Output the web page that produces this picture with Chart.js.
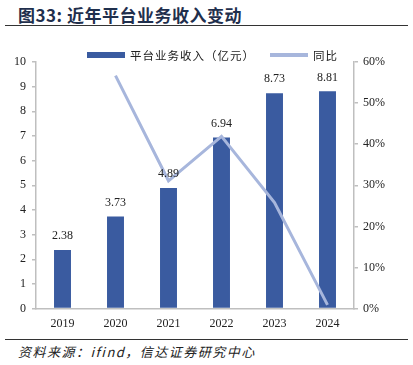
<!DOCTYPE html>
<html>
<head>
<meta charset="utf-8">
<script src="https://cdn.jsdelivr.net/npm/chart.js@4"></script>
<style>
  body { margin: 0; width: 413px; height: 365px; background: #fff; position: relative; overflow: hidden; }
  .title { position: absolute; left: 18px; top: 2px; font: bold 17px "Noto Sans CJK SC", "Liberation Serif", serif; color: #1f2f4d; letter-spacing: 0.5px; }
  .rule { position: absolute; left: 5px; width: 403px; height: 0; border-top: 1.5px solid #333; }
  .source { position: absolute; left: 18px; top: 342px; font: italic 13px "Noto Sans CJK SC", "Liberation Serif", serif; color: #222; letter-spacing: 1.5px; }
  #wrap { position: absolute; left: 0; top: 30px; width: 413px; height: 309px; }
  .legend { position: absolute; top: 47px; left: 87px; font: 11.5px "Noto Sans CJK SC", serif; color: #222; display: flex; align-items: center; letter-spacing: 1px; }
  .sw { display: inline-block; width: 38px; margin-right: 5px; }
</style>
</head>
<body>
<div class="title">图33: 近年平台业务收入变动</div>
<div class="rule" style="top:25px"></div>
<div id="wrap"><canvas id="chart"></canvas></div>
<div class="legend">
  <span class="sw" style="height:6px;background:#3a5ba0"></span><span>平台业务收入（亿元）</span>
  <span class="sw" style="height:4px;background:#a7b6dc;margin-left:15px"></span><span>同比</span>
</div>
<div class="rule" style="top:339px"></div>
<div class="source">资料来源：ifind，信达证券研究中心</div>
<script>
// values
const years = ['2019', '2020', '2021', '2022', '2023', '2024'];
const revenue = [2.38, 3.73, 4.89, 6.94, 8.73, 8.81];
const yoy = [null, 56.7, 31.1, 41.9, 25.8, 0.9];

const barColor = '#3a5ba0';
const lineColor = '#a7b6dc';
const axisColor = '#bfbfbf';
const numFont = { family: '"Liberation Serif", "Times New Roman", serif', size: 12 };

// Value labels above the bars
const barLabels = {
    id: 'barLabels',
    afterDatasetsDraw(chart) {
        const ctx = chart.ctx;
        const meta = chart.getDatasetMeta(1);
        ctx.save();
        ctx.font = '12px "Liberation Serif", serif';
        ctx.fillStyle = '#222';
        ctx.textAlign = 'center';
        ctx.textBaseline = 'bottom';
        meta.data.forEach((bar, i) => {
            ctx.fillText(revenue[i].toFixed(2), bar.x, bar.y - 8);
        });
        ctx.restore();
    }
};

const ctx = document.getElementById('chart').getContext('2d');
new Chart(ctx, {
    data: {
        labels: years,
        datasets: [
            {
                type: 'line',
                label: '同比',
                data: yoy,
                yAxisID: 'y1',
                borderColor: lineColor,
                borderWidth: 3,
                pointRadius: 0,
                tension: 0,
                order: 0
            },
            {
                type: 'bar',
                label: '平台业务收入（亿元）',
                data: revenue,
                yAxisID: 'y',
                backgroundColor: barColor,
                categoryPercentage: 1,
                barPercentage: 0.32,
                order: 1
            }
        ]
    },
    options: {
        responsive: true,
        maintainAspectRatio: false,
        animation: false,
        layout: { padding: { top: 32, bottom: 0, left: 0, right: 0 } },
        plugins: {
            legend: { display: false },
            tooltip: { enabled: false }
        },
        scales: {
            x: {
                grid: { display: false, drawTicks: false },
                border: { color: axisColor, width: 1.5 },
                ticks: { color: '#222', font: numFont, padding: 8 }
            },
            y: {
                position: 'left',
                min: 0,
                max: 10,
                afterFit: s => { s.width = 36; },
                grid: { drawOnChartArea: false, drawTicks: true, tickLength: 4, color: axisColor, lineWidth: 1.5 },
                border: { color: axisColor, width: 1.5 },
                ticks: { stepSize: 1, color: '#222', font: numFont, padding: 6 }
            },
            y1: {
                position: 'right',
                min: 0,
                max: 60,
                afterFit: s => { s.width = 59; },
                grid: { drawOnChartArea: false, drawTicks: true, tickLength: 4, color: axisColor, lineWidth: 1.5 },
                border: { color: axisColor, width: 1.5 },
                ticks: { stepSize: 10, color: '#222', font: numFont, padding: 5, callback: v => v + '%' }
            }
        }
    },
    plugins: [barLabels]
});
</script>
</body>
</html>
